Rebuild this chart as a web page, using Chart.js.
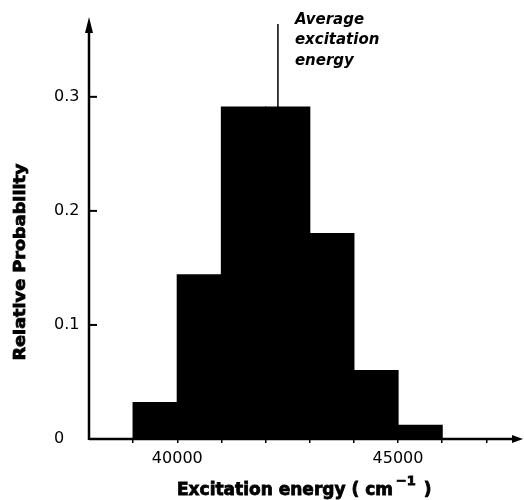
<!DOCTYPE html>
<html>
<head>
<meta charset="utf-8">
<script src="https://cdn.jsdelivr.net/npm/chart.js@4.4.1/dist/chart.umd.min.js"></script>
<style>
    html, body { margin: 0; padding: 0; background: #fff; }
    #wrap { width: 524px; height: 500px; }
</style>
</head>
<body>
<div id="wrap"><canvas id="histChart" width="524" height="500"></canvas></div>
<script>
// histogram data
const binCenters = [39500, 40500, 41500, 42500, 43500, 44500, 45500];
const probabilities = [0.032, 0.144, 0.291, 0.291, 0.180, 0.060, 0.012];
const yTickValues = [0, 0.1, 0.2, 0.3];
const xTickValues = [39000, 40000, 41000, 42000, 43000, 44000, 45000, 46000, 47000];
const xTickLabels = [40000, 45000];
const averageEnergy = 42280;
const noteLines = ['Average', 'excitation', 'energy'];
const yTitle = 'Relative Probability';
const xTitle = 'Excitation energy ( cm';
const xTitleSup = '\u22121';

const heavy = '"DejaVu Sans", sans-serif';

// axes with arrows, inside ticks, average marker and titles
const decorPlugin = {
    id: 'decor',
    afterDatasetsDraw(chart) {
        const { ctx, chartArea, scales: { x, y } } = chart;
        const left = x.getPixelForValue(x.min);
        const base = y.getPixelForValue(0);
        ctx.save();
        ctx.strokeStyle = '#000';
        ctx.fillStyle = '#000';
        ctx.lineWidth = 2.5;

        // x axis + arrow
        ctx.beginPath();
        ctx.moveTo(left, base);
        ctx.lineTo(chartArea.right, base);
        ctx.stroke();
        ctx.beginPath();
        ctx.moveTo(chartArea.right + 8, base);
        ctx.lineTo(chartArea.right - 3, base - 4);
        ctx.lineTo(chartArea.right - 3, base + 4);
        ctx.closePath();
        ctx.fill();

        // y axis + arrow
        ctx.beginPath();
        ctx.moveTo(left, base + 1);
        ctx.lineTo(left, chartArea.top + 8);
        ctx.stroke();
        ctx.beginPath();
        ctx.moveTo(left, chartArea.top);
        ctx.lineTo(left - 4, chartArea.top + 16);
        ctx.lineTo(left + 4, chartArea.top + 16);
        ctx.closePath();
        ctx.fill();

        // y ticks pointing into the plot
        ctx.lineWidth = 2;
        yTickValues.forEach(v => {
            if (v === 0) return;
            const py = y.getPixelForValue(v);
            ctx.beginPath();
            ctx.moveTo(left, py);
            ctx.lineTo(left + 8, py);
            ctx.stroke();
        });

        // average excitation energy marker
        const ax = x.getPixelForValue(averageEnergy);
        ctx.lineWidth = 1.5;
        ctx.beginPath();
        ctx.moveTo(ax, y.getPixelForValue(probabilities[3]));
        ctx.lineTo(ax, chartArea.top + 7);
        ctx.stroke();

        ctx.font = 'italic bold 15px ' + heavy;
        ctx.textAlign = 'left';
        ctx.textBaseline = 'alphabetic';
        noteLines.forEach((t, i) => {
            ctx.fillText(t, ax + 17, 24 + i * 20.3);
        });

        // y title, rotated
        ctx.save();
        ctx.translate(21, 262);
        ctx.rotate(-Math.PI / 2);
        ctx.font = 'bold 15px ' + heavy;
        let w = ctx.measureText(yTitle).width;
        ctx.scale(197 / w, 1);
        ctx.textAlign = 'center';
        ctx.textBaseline = 'middle';
        ctx.lineWidth = 0.8;
        ctx.fillText(yTitle, 0, 0);
        ctx.strokeText(yTitle, 0, 0);
        ctx.restore();

        // x title with superscript
        ctx.font = 'bold 17px ' + heavy;
        ctx.textAlign = 'left';
        ctx.textBaseline = 'alphabetic';
        ctx.lineWidth = 0.8;
        let tx = 177;
        const ty = 495;
        ctx.fillText(xTitle, tx, ty);
        ctx.strokeText(xTitle, tx, ty);
        tx += ctx.measureText(xTitle).width + 3;
        ctx.font = 'bold 13px ' + heavy;
        ctx.fillText(xTitleSup, tx, ty - 10);
        ctx.strokeText(xTitleSup, tx, ty - 10);
        tx += ctx.measureText(xTitleSup).width + 8;
        ctx.font = 'bold 17px ' + heavy;
        ctx.fillText(')', tx, ty);
        ctx.strokeText(')', tx, ty);

        ctx.restore();
    }
};

const ctx = document.getElementById('histChart').getContext('2d');
const histChart = new Chart(ctx, {
    type: 'bar',
    data: {
        datasets: [{
            data: binCenters.map((c, i) => ({ x: c, y: probabilities[i] })),
            backgroundColor: '#000',
            borderWidth: 0,
            inflateAmount: 0.6,
            barPercentage: 1,
            categoryPercentage: 1
        }]
    },
    options: {
        responsive: false,
        animation: false,
        layout: { padding: { left: 54, top: 17, right: 9, bottom: 0 } },
        plugins: {
            legend: { display: false },
            tooltip: { enabled: false }
        },
        scales: {
            x: {
                type: 'linear',
                offset: false,
                min: 38000,
                max: 47650,
                afterBuildTicks: s => { s.ticks = xTickValues.map(v => ({ value: v })); },
                afterFit: s => { s.height = 61; },
                border: { display: false },
                grid: {
                    display: true,
                    offset: false,
                    drawOnChartArea: false,
                    drawTicks: true,
                    tickLength: 4,
                    color: '#000',
                    lineWidth: 1.5
                },
                ticks: {
                    autoSkip: false,
                    maxRotation: 0,
                    padding: 6,
                    color: '#000',
                    font: { family: 'DejaVu Sans', size: 16 },
                    callback: v => xTickLabels.includes(v) ? String(v) : ''
                }
            },
            y: {
                min: 0,
                max: 0.37,
                afterBuildTicks: s => { s.ticks = yTickValues.map(v => ({ value: v })); },
                afterFit: s => { s.width = 35; },
                border: { display: false },
                grid: { display: false, drawTicks: false },
                ticks: {
                    crossAlign: 'far',
                    padding: 0,
                    color: '#000',
                    font: { family: 'DejaVu Sans', size: 16 },
                    callback: v => v === 0 ? '0' : v.toFixed(1)
                }
            }
        }
    },
    plugins: [decorPlugin]
});
</script>
</body>
</html>
